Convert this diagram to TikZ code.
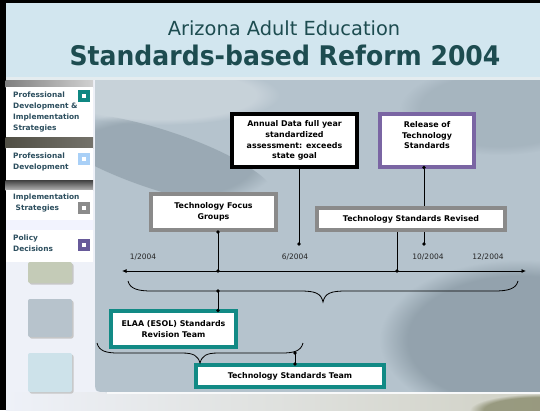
\documentclass[tikz,border=0pt]{standalone}
\usepackage{fontspec}
\setmainfont{DejaVu Sans}
\newfontfamily\titlefont{DejaVu Sans}[FakeStretch=0.93]
\usetikzlibrary{arrows.meta,fadings}
\definecolor{hdr}{HTML}{D2E6EF}
\definecolor{hdrline}{HTML}{E4ECEF}
\definecolor{ttl}{HTML}{1D4C50}
\definecolor{lgt}{HTML}{2C4E5E}
\definecolor{tealb}{HTML}{128A85}
\definecolor{purb}{HTML}{7A65A3}
\definecolor{gryb}{HTML}{8A8A8A}
\definecolor{sqteal}{HTML}{0F8782}
\definecolor{sqblue}{HTML}{A9D0F7}
\definecolor{sqgray}{HTML}{8B8B8B}
\definecolor{sqpurp}{HTML}{675A9A}
\definecolor{pnl}{HTML}{B5C3CD}
\definecolor{pnldark}{HTML}{8595A0}
\definecolor{sidebg}{HTML}{EEF1F8}
\definecolor{bandA}{HTML}{514F45}
\definecolor{bandAr}{HTML}{74726A}
\definecolor{bigA}{HTML}{C4CBB7}
\definecolor{bigB}{HTML}{B7C3CC}
\definecolor{bigC}{HTML}{CDE2EA}
\definecolor{olive}{HTML}{8A8C6E}
\tikzset{
  evbox/.style={draw=#1, line width=4pt, fill=white, inner sep=0pt, align=center,
    font=\bfseries\fontsize{7.9}{10.8}\selectfont, text=black},
  conn/.style={line width=0.8pt, draw=black},
  bracepath/.style={line width=0.8pt, draw=black},
  datelbl/.style={font=\fontsize{7.5}{9}\selectfont, text=black!85, inner sep=0pt},
  legtxt/.style={anchor=west, align=left, font=\bfseries\fontsize{7.4}{11}\selectfont,
    text=lgt, inner sep=0pt},
  legsq/.style={fill=#1, minimum size=12pt, inner sep=0pt,
    path picture={\fill[white] ([xshift=-2.3pt,yshift=-2.3pt]path picture bounding box.center)
      rectangle ([xshift=2.3pt,yshift=2.3pt]path picture bounding box.center);}},
  bigsq/.style={fill=#1, rounded corners=2pt},
  sqshadow/.style={fill=black!22, rounded corners=2pt},
}
\begin{document}
\begin{tikzpicture}[x=1pt,y=-1pt]
\useasboundingbox (0,0) rectangle (540,410);
% ---------- background ----------
\fill[sidebg] (0,0) rectangle (540,410);
\shade[left color=sidebg, right color=olive!40!white] (5.5,392) rectangle (540,410);
\fill[olive, path fading=circle with fuzzy edge 20 percent, fill opacity=0.8]
  (540,410) ellipse[x radius=70, y radius=16];
\fill[black] (0,0) rectangle (5.5,410);
\fill[black] (0,0) rectangle (540,2.5);
\fill[hdr] (5.5,2.5) rectangle (540,77);
\fill[hdrline] (5.5,77) rectangle (540,80);
% main panel
\fill[pnl] (95,80) -- (540,80) -- (540,392) -- (107,392) .. controls (95,392) .. (95,380) -- cycle;
\begin{scope}
  \clip (95,80) -- (540,80) -- (540,392) -- (107,392) .. controls (95,392) .. (95,380) -- cycle;
  \fill[white, fill opacity=0.25, path fading=circle with fuzzy edge 20 percent]
    (160,95) ellipse[x radius=120, y radius=30];
  \fill[pnldark, fill opacity=0.55, path fading=circle with fuzzy edge 20 percent, rotate around={-18:(160,160)}]
    (160,160) ellipse[x radius=120, y radius=30];
  \fill[pnldark, fill opacity=0.7, path fading=circle with fuzzy edge 20 percent]
    (520,340) ellipse[x radius=140, y radius=80];
  \fill[pnldark, fill opacity=0.3, path fading=circle with fuzzy edge 20 percent]
    (500,110) ellipse[x radius=100, y radius=45];
\end{scope}
\fill[white!90!pnl] (107,392) rectangle (540,394);
% ---------- title ----------
\node[anchor=base, inner sep=0pt, text=ttl, font=\fontsize{19.4}{20}\selectfont] (t1) at (284,35) {Arizona Adult Education};
\node[anchor=base, inner sep=0pt, text=ttl, font=\titlefont\bfseries\fontsize{27}{28}\selectfont] (t2) at (285,65) {Standards-based Reform 2004};
% ---------- left legend ----------
\shade[left color=black!50, right color=black!18] (5.5,80) rectangle (93,87);
\fill[white] (5.5,87) rectangle (93,137);
\shade[left color=bandA, right color=bandAr] (5.5,137) rectangle (93,148);
\fill[white] (5.5,148) rectangle (93,180);
\shade[top color=black!75, bottom color=black!30] (5.5,180) rectangle (93,190);
\fill[white] (5.5,190) rectangle (93,220);
\fill[sidebg!80!blue!20!white] (5.5,220) rectangle (93,230);
\fill[white] (5.5,230) rectangle (93,262);
\node[legtxt] (l1) at (13,111.5) {Professional\\Development \&\\Implementation\\Strategies};
\node[legtxt] (l2) at (13,162) {Professional\\Development};
\node[legtxt] (l3) at (13,202.5) {Implementation\\\hspace*{2.5pt}Strategies};
\node[legtxt] (l4) at (13,243.5) {Policy\\Decisions};
\node[legsq=sqteal] (q1) at (84,96) {};
\node[legsq=sqblue] (q2) at (84,159) {};
\node[legsq=sqgray] (q3) at (84,208) {};
\node[legsq=sqpurp] (q4) at (84,245) {};
\fill[sqshadow] (29.5,263.5) rectangle (73.5,284.5);
\fill[bigsq=bigA] (28,262) rectangle (72,283);
\fill[sqshadow] (29.5,300.5) rectangle (73.5,338.5);
\fill[bigsq=bigB] (28,299) rectangle (72,337);
\fill[sqshadow] (29.5,354.5) rectangle (73.5,393.5);
\fill[bigsq=bigC] (28,353) rectangle (72,392);
% ---------- event boxes ----------
\node[evbox=black, minimum width=125pt, minimum height=53pt] (annual) at (294.5,140.5)
  {Annual Data full year\\standardized\\assessment: exceeds\\state goal};
\node[evbox=purb, minimum width=94pt, minimum height=53pt] (release) at (427,140.5)
  {Release of\\Technology\\Standards\\\mbox{}};
\node[evbox=gryb, minimum width=125pt, minimum height=36pt] (focus) at (213.5,212)
  {Technology Focus\\Groups};
\node[evbox=gryb, minimum width=188pt, minimum height=22pt] (tsr) at (411,219)
  {Technology Standards Revised};
\node[evbox=tealb, minimum width=125pt, minimum height=36pt] (elaa) at (173.5,329)
  {ELAA (ESOL) Standards\\Revision Team};
\node[evbox=tealb, minimum width=188pt, minimum height=22pt] (tst) at (290,376)
  {Technology Standards Team};
% ---------- timeline ----------
\coordinate (tl) at (122,271);
\coordinate (tr) at (526,271);
\draw[conn, {Latex[length=4.5pt,width=4pt]}-{Latex[length=4.5pt,width=4pt]}] (tl) -- (tr);
\node[datelbl] (d1) at (143,257) {1/2004};
\node[datelbl] (d6) at (295,257) {6/2004};
\node[datelbl] (d10) at (428,257) {10/2004};
\node[datelbl] (d12) at (488,257) {12/2004};
\coordinate (ta) at (218,271);
\coordinate (tb) at (397,271);
\coordinate (m6) at (299,244);
\coordinate (m10) at (424,244);
\draw[conn] (ta |- focus.south) -- (ta);
\fill (ta |- focus.south) circle[radius=1.8];
\fill (ta) circle[radius=1.8];
\draw[conn] (m6 |- annual.south) -- (m6);
\fill (m6) circle[radius=1.8];
\draw[conn] (m10 |- release.south) -- (m10 |- tsr.north);
\fill ([yshift=1.5pt]m10 |- release.south) circle[radius=1.8];
\draw[conn] (tb |- tsr.south) -- (tb);
\fill (tb) circle[radius=1.8];
\draw[conn] (m10 |- tsr.south) -- (m10);
\fill (m10) circle[radius=1.8];
% ---------- brace 1 ----------
\coordinate (b1l) at (128,281);
\coordinate (b1r) at (518,281);
\coordinate (b1t) at (323,302);
\draw[bracepath] (b1l) .. controls (130,289) and (138,291) .. (152,291) -- (300,291)
  .. controls (315,291) and (321,293) .. (b1t)
  .. controls (325,293) and (331,291) .. (346,291) -- (494,291)
  .. controls (508,291) and (516,289) .. (b1r);
\coordinate (b1j) at (218,291);
\draw[conn] (b1j) -- (b1j |- elaa.north);
\fill (b1j) circle[radius=1.8];
\fill ([yshift=-1.5pt]b1j |- elaa.north) circle[radius=1.8];
% ---------- brace 2 ----------
\coordinate (b2l) at (97,343);
\coordinate (b2r) at (303,343);
\coordinate (b2t) at (200,363);
\draw[bracepath] (b2l) .. controls (99,351) and (106,353) .. (118,353) -- (182,353)
  .. controls (194,353) and (198,356) .. (b2t)
  .. controls (202,356) and (206,353) .. (218,353) -- (282,353)
  .. controls (294,353) and (301,351) .. (b2r);
\coordinate (b2j) at (295,353);
\draw[conn] (b2j) -- (b2j |- tst.north);
\fill (b2j) circle[radius=1.8];
\fill ([yshift=-1pt]b2j |- tst.north) circle[radius=1.8];
\end{tikzpicture}
\end{document}
